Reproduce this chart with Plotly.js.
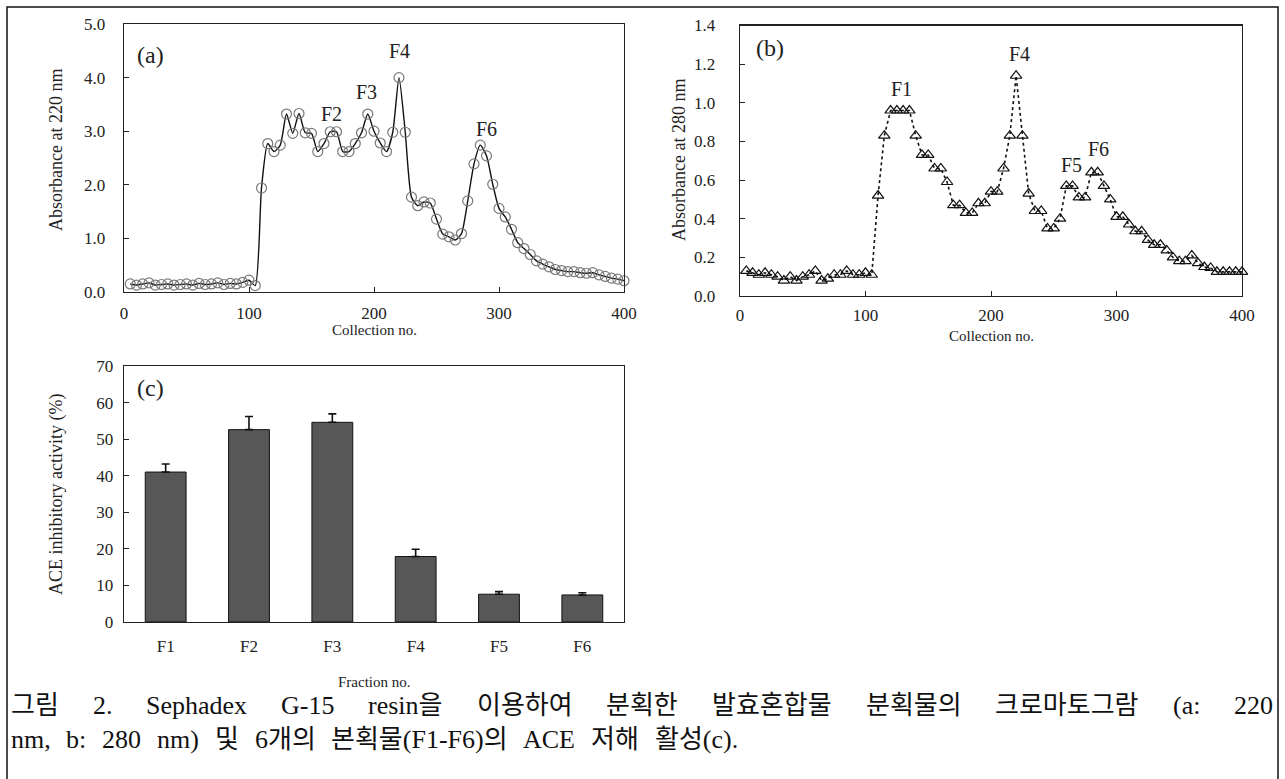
<!DOCTYPE html>
<html>
<head>
<meta charset="utf-8">
<script src="https://cdn.plot.ly/plotly-3.0.1.min.js"></script>
<style>
html,body{margin:0;padding:0;background:#fff;}
#chart{width:1285px;height:779px;}
</style>
</head>
<body>
<div id="chart"></div>
<script>
// ---------- data ----------
const collectionA = [5,10,15,20,25,30,35,40,45,50,55,60,65,70,75,80,85,90,95,100,
  105,110,115,120,125,130,135,140,145,150,155,160,165,170,175,180,185,190,195,200,
  205,210,215,220,225,230,235,240,245,250,255,260,265,270,275,280,285,290,295,300,
  305,310,315,320,325,330,335,340,345,350,355,360,365,370,375,380,385,390,395,400];
const absorbance220 = [0.15,0.13,0.15,0.17,0.13,0.14,0.15,0.13,0.14,0.15,0.13,0.16,0.14,0.15,0.17,0.14,0.16,0.15,0.18,0.22,
  0.12,1.94,2.77,2.62,2.74,3.32,2.96,3.33,2.97,2.96,2.62,2.77,2.99,2.99,2.62,2.62,2.77,2.97,3.32,3.00,
  2.78,2.62,2.98,4.00,2.98,1.77,1.61,1.68,1.66,1.36,1.08,1.03,0.97,1.09,1.70,2.39,2.74,2.54,2.01,1.56,
  1.40,1.17,0.92,0.81,0.70,0.58,0.52,0.47,0.42,0.40,0.38,0.38,0.36,0.35,0.36,0.32,0.29,0.26,0.24,0.21];

const collectionB = collectionA;
const absorbance280 = [0.13,0.12,0.11,0.12,0.11,0.10,0.08,0.10,0.08,0.10,0.11,0.13,0.08,0.09,0.11,0.11,0.13,0.11,0.11,0.12,
  0.11,0.52,0.83,0.96,0.96,0.96,0.96,0.83,0.73,0.73,0.66,0.66,0.59,0.47,0.47,0.43,0.43,0.48,0.48,0.54,
  0.54,0.66,0.83,1.14,0.83,0.53,0.44,0.44,0.35,0.35,0.40,0.57,0.57,0.51,0.51,0.64,0.64,0.57,0.50,0.41,
  0.41,0.37,0.335,0.335,0.29,0.265,0.265,0.236,0.20,0.18,0.18,0.21,0.17,0.15,0.145,0.125,0.125,0.125,0.125,0.125];

const fractions = ['F1','F2','F3','F4','F5','F6'];
const aceInhibition = [41.0, 52.6, 54.6, 17.9, 7.6, 7.4];
const aceError = [2.2, 3.6, 2.3, 2.0, 0.7, 0.6];

const peakLabelsA = ['F2','F3','F4','F6'];
const peakXA = [166, 194, 220, 290];
const peakYA = [3.32, 3.74, 4.5, 3.05];
const peakLabelsB = ['F1','F4','F5','F6'];
const peakXB = [129, 223, 264, 286];
const peakYB = [1.07, 1.25, 0.68, 0.76];

const ticksA = [0,100,200,300,400];

const captionLine1 = '그림 2. Sephadex G-15 resin을 이용하여 분획한 발효혼합물 분획물의 크로마토그람 (a: 220';
const captionLine2 = 'nm, b: 280 nm) 및 6개의 본획물(F1-F6)의 ACE 저해 활성(c).';

// ---------- layout helpers ----------
const W = 1285, H = 779;
const fx = p => p / W;
const fy = p => 1 - p / H;
const SERIF = '"Liberation Serif", "Times New Roman", serif';
const CAPFONT = '"Liberation Serif", "Noto Sans CJK KR", serif';
const tickFont = {family: SERIF, size: 17, color: '#222'};

function axisBase(extra) {
  return Object.assign({
    showline: true, mirror: true, linecolor: '#222', linewidth: 1.4,
    showgrid: false, zeroline: false, ticks: 'inside', ticklen: 5,
    tickcolor: '#222', tickwidth: 1, tickfont: tickFont, automargin: false,
    fixedrange: true
  }, extra);
}

const traces = [
  {
    x: collectionA, y: absorbance220, xaxis: 'x', yaxis: 'y', type: 'scatter',
    mode: 'lines+markers', cliponaxis: false,
    line: {color: '#111', width: 1.4, shape: 'spline', smoothing: 0.6},
    marker: {symbol: 'circle-open', size: 10, color: '#7a7a7a', line: {width: 1.2, color: '#7a7a7a'}},
    hoverinfo: 'x+y'
  },
  {
    x: collectionB, y: absorbance280, xaxis: 'x2', yaxis: 'y2', type: 'scatter',
    mode: 'lines+markers', cliponaxis: false,
    line: {color: '#111', width: 1.6, dash: 'dot'},
    marker: {symbol: 'triangle-up-open', size: 10, color: '#111', line: {width: 1.2, color: '#111'}},
    hoverinfo: 'x+y'
  },
  {
    x: fractions, y: aceInhibition, xaxis: 'x3', yaxis: 'y3', type: 'bar',
    width: 0.49,
    marker: {color: '#575757', line: {color: '#111', width: 1}},
    error_y: {type: 'data', symmetric: false, array: aceError, arrayminus: aceError.map(() => 0),
      color: '#111', thickness: 1.6, width: 4}
  }
];

const annotations = [];
function addText(text, x, y, size, extra) {
  annotations.push(Object.assign({
    text: text, x: x, y: y, xref: 'paper', yref: 'paper', showarrow: false,
    font: {family: SERIF, size: size, color: '#222'}, xanchor: 'center', yanchor: 'middle'
  }, extra || {}));
}
// panel letters
addText('(a)', fx(150), fy(55), 24);
addText('(b)', fx(770), fy(48), 24);
addText('(c)', fx(150), fy(388), 24);
// peak labels (data coordinates)
peakLabelsA.forEach((t, i) => annotations.push({text: t, x: peakXA[i], y: peakYA[i], xref: 'x', yref: 'y',
  showarrow: false, font: {family: SERIF, size: 20, color: '#222'}}));
peakLabelsB.forEach((t, i) => annotations.push({text: t, x: peakXB[i], y: peakYB[i], xref: 'x2', yref: 'y2',
  showarrow: false, font: {family: SERIF, size: 20, color: '#222'}}));
// axis titles
addText('Absorbance at 220 nm', fx(56), fy(150), 18, {textangle: -90});
addText('Absorbance at 280 nm', fx(679), fy(160), 18, {textangle: -90});
addText('ACE inhibitory activity (%)', fx(56), fy(495), 18, {textangle: -90});
addText('Collection no.', fx(374), fy(330), 15);
addText('Collection no.', fx(991), fy(336), 15);
addText('Fraction no.', fx(374), fy(682), 15);

// caption: one annotation per word, justified after the first render
const capFont = {family: CAPFONT, size: 26, color: '#111'};
const cap1Words = captionLine1.split(' ');
const cap2Words = captionLine2.split(' ');
const cap1Start = annotations.length;
cap1Words.forEach(w => addText(w, fx(10), fy(705), 26, {xanchor: 'left', font: capFont, borderpad: 0}));
const cap2Start = annotations.length;
cap2Words.forEach(w => addText(w, fx(10), fy(739), 26, {xanchor: 'left', font: capFont, borderpad: 0}));

const layout = {
  width: W, height: H,
  margin: {l: 0, r: 0, t: 0, b: 0, pad: 0},
  paper_bgcolor: '#fff', plot_bgcolor: '#fff',
  showlegend: false,
  font: {family: SERIF, color: '#222'},
  xaxis: axisBase({domain: [fx(124), fx(624)], range: [0, 400], anchor: 'y', tickvals: ticksA, ticklabelstandoff: 5}),
  yaxis: axisBase({domain: [fy(292), fy(24)], range: [0, 5], dtick: 1, tick0: 0, tickformat: '.1f', anchor: 'x', ticklabelstandoff: 14}),
  xaxis2: axisBase({domain: [fx(740), fx(1242)], range: [0, 400], anchor: 'y2', tickvals: ticksA, ticklabelstandoff: 3}),
  yaxis2: axisBase({domain: [fy(296), fy(25.5)], range: [0, 1.4], dtick: 0.2, tick0: 0, tickformat: '.1f', anchor: 'x2', ticklabelstandoff: 20}),
  xaxis3: axisBase({domain: [fx(124), fx(624)], type: 'category', anchor: 'y3', ticks: '', ticklabelstandoff: 8}),
  yaxis3: axisBase({domain: [fy(622), fy(366)], range: [0, 70], dtick: 10, tick0: 0, anchor: 'x3', ticklabelstandoff: 6}),
  shapes: [{type: 'rect', xref: 'paper', yref: 'paper', x0: fx(7), x1: fx(1278), y0: -0.05, y1: fy(7),
    line: {color: '#111', width: 1.5}, fillcolor: 'rgba(0,0,0,0)', layer: 'below'}],
  annotations: annotations
};

function wordWidth(gd, idx) {
  const el = gd.querySelector('.annotation[data-index="' + idx + '"] .annotation-text');
  return el ? el.getBBox().width : 0;
}
function justify(gd, start, count, left, width, update) {
  const widths = [];
  for (let i = 0; i < count; i++) widths.push(wordWidth(gd, start + i));
  const total = widths.reduce((a, b) => a + b, 0);
  const gap = Math.max(6, (width - total) / (count - 1));
  let x = left;
  for (let i = 0; i < count; i++) {
    update['annotations[' + (start + i) + '].x'] = fx(x);
    x += widths[i] + gap;
  }
}

Plotly.newPlot('chart', traces, layout, {displayModeBar: false, staticPlot: true}).then(gd => {
  const upd = {};
  justify(gd, cap1Start, cap1Words.length, 10, 1262, upd);
  justify(gd, cap2Start, cap2Words.length, 10, 727, upd);
  return Plotly.relayout(gd, upd);
});
</script>
</body>
</html>
